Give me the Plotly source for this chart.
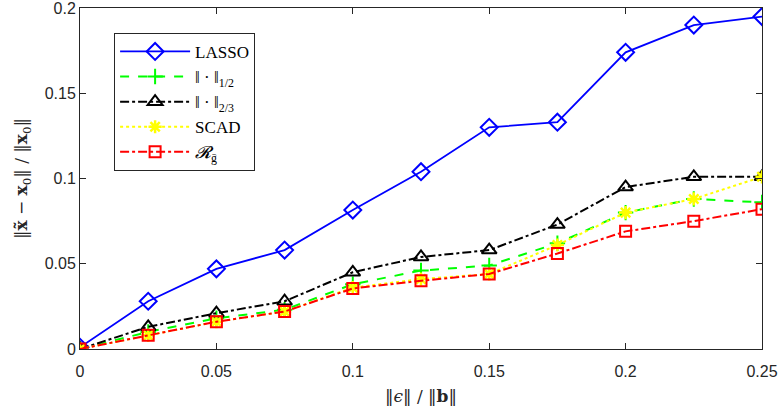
import plotly.graph_objects as go

# noise level ||eps|| / ||b||
noise = [0, 0.025, 0.05, 0.075, 0.1, 0.125, 0.15, 0.175, 0.2, 0.225, 0.25]

# relative recovery error per method
lasso = [0.001, 0.028, 0.047, 0.058, 0.0815, 0.104, 0.13, 0.133, 0.174, 0.19, 0.195]
l_half = [0, 0.010, 0.018, 0.023, 0.038, 0.046, 0.049, 0.062, 0.080, 0.088, 0.086]
l_23 = [0, 0.013, 0.021, 0.028, 0.045, 0.054, 0.058, 0.073, 0.095, 0.101, 0.101]
scad = [0, 0.008, 0.016, 0.022, 0.036, 0.041, 0.044, 0.061, 0.080, 0.088, 0.101]
r_g = [0, 0.008, 0.016, 0.022, 0.0355, 0.040, 0.044, 0.056, 0.069, 0.075, 0.082]

y_ticks = [0, 0.05, 0.1, 0.15, 0.2]
y_labels = ["0", "0.05", "0.1", "0.15", "0.2"]
x_ticks = [0, 0.05, 0.1, 0.15, 0.2, 0.25]
x_labels = ["0", "0.05", "0.1", "0.15", "0.2", "0.25"]

fig = go.Figure()

fig.add_trace(go.Scatter(x=noise, y=lasso, name="LASSO", mode="lines+markers",
                         line=dict(color="#0000ff", width=1.8),
                         marker=dict(symbol="diamond-open", size=13,
                                     line=dict(width=2, color="#0000ff"))))
fig.add_trace(go.Scatter(x=noise, y=l_half, name="‖ · ‖<sub>1/2</sub>",
                         mode="lines+markers",
                         line=dict(color="#00ff00", width=2, dash="dash"),
                         marker=dict(symbol="cross-thin", size=11, color="#00ff00",
                                     line=dict(width=2, color="#00ff00"))))
fig.add_trace(go.Scatter(x=noise, y=l_23, name="‖ · ‖<sub>2/3</sub>",
                         mode="lines+markers",
                         line=dict(color="black", width=2, dash="dashdot"),
                         marker=dict(symbol="triangle-up-open", size=13,
                                     line=dict(width=2, color="black"))))
fig.add_trace(go.Scatter(x=noise, y=scad, name="SCAD", mode="lines+markers",
                         line=dict(color="#ffff00", width=2, dash="dot"),
                         marker=dict(symbol="asterisk", size=11, color="#ffff00",
                                     line=dict(width=2.5, color="#ffff00"))))
fig.add_trace(go.Scatter(x=noise, y=r_g, name="<i>𝓡</i><sub>ḡ</sub>",
                         mode="lines+markers",
                         line=dict(color="#ff0000", width=2, dash="dashdot"),
                         marker=dict(symbol="square-open", size=11,
                                     line=dict(width=2, color="#ff0000"))))

axis_common = dict(showline=True, linecolor="#262626", linewidth=1, mirror="ticks",
                   ticks="inside", ticklen=6, tickcolor="#262626", showgrid=False,
                   zeroline=False, automargin=False, ticklabeloverflow="allow",
                   tickfont=dict(family="Liberation Sans, Arial", size=16, color="#262626"),
                   title_font=dict(family="DejaVu Serif, Liberation Serif", size=17,
                                   color="#262626"))

fig.update_xaxes(range=[0, 0.25], tickvals=x_ticks, ticktext=x_labels,
                 ticklabelstandoff=8,
                 title_text="‖<i>ϵ</i>‖ / ‖<b>b</b>‖", title_standoff=10, **axis_common)
fig.update_yaxes(range=[0, 0.2], tickvals=y_ticks, ticktext=y_labels,
                 ticklabelstandoff=0,
                 title_text="‖<b>x̃</b> − <b>x</b><sub>0</sub>‖ / ‖<b>x</b><sub>0</sub>‖",
                 title_standoff=12, **axis_common)

fig.update_layout(
    width=783, height=412,
    margin=dict(l=80, r=21, t=8, b=63),
    plot_bgcolor="white", paper_bgcolor="white",
    legend=dict(x=0.05, y=0.927, xanchor="left", yanchor="top",
                bgcolor="white", bordercolor="#262626", borderwidth=1,
                font=dict(family="Liberation Serif, DejaVu Serif", size=17, color="black"),
                itemwidth=70, tracegroupgap=0),
    showlegend=True,
)

fig.write_html("out.html", config={"displayModeBar": False},
               post_script="document.body.style.margin='0';")
